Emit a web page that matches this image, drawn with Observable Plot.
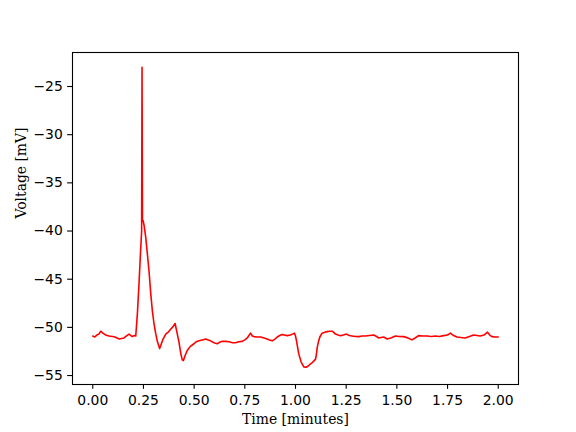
<!DOCTYPE html>
<html>
<head>
<meta charset="utf-8">
<script src="https://cdn.jsdelivr.net/npm/d3@7"></script>
<script src="https://cdn.jsdelivr.net/npm/@observablehq/plot@0.6"></script>
<style>
  html, body { margin: 0; padding: 0; background: white; }
</style>
</head>
<body>
<div id="chart"></div>
<script>
const timeMin = [
  0.000, 0.010, 0.020, 0.030, 0.039, 0.050, 0.064, 0.080, 0.097, 0.110,
  0.120, 0.130, 0.142, 0.154, 0.165, 0.179, 0.188, 0.195, 0.205, 0.212,
  0.220, 0.228, 0.236, 0.241, 0.243, 0.245, 0.248, 0.253, 0.261, 0.269,
  0.278, 0.286, 0.294, 0.302, 0.310, 0.319, 0.330, 0.345, 0.360, 0.372,
  0.384, 0.395, 0.406, 0.415, 0.425, 0.435, 0.442, 0.447, 0.456, 0.466,
  0.480, 0.499, 0.510, 0.524, 0.540, 0.557, 0.570, 0.581, 0.598, 0.614,
  0.625, 0.639, 0.655, 0.672, 0.690, 0.704, 0.720, 0.737, 0.750, 0.762,
  0.778, 0.787, 0.795, 0.810, 0.828, 0.845, 0.860, 0.872, 0.885, 0.900,
  0.910, 0.922, 0.934, 0.945, 0.959, 0.975, 0.985, 0.995, 1.000, 1.005,
  1.016, 1.028, 1.041, 1.050, 1.057, 1.066, 1.074, 1.083, 1.090, 1.099,
  1.103, 1.107, 1.113, 1.120, 1.131, 1.145, 1.156, 1.168, 1.181, 1.190,
  1.197, 1.210, 1.222, 1.236, 1.251, 1.265, 1.279, 1.295, 1.312, 1.328,
  1.345, 1.365, 1.386, 1.400, 1.410, 1.422, 1.435, 1.452, 1.470, 1.493,
  1.510, 1.534, 1.555, 1.575, 1.590, 1.607, 1.628, 1.649, 1.670, 1.690,
  1.710, 1.731, 1.750, 1.764, 1.780, 1.796, 1.815, 1.837, 1.858, 1.878,
  1.895, 1.911, 1.930, 1.947, 1.958, 1.969, 1.985, 2.000
];
const voltage = [
  -50.9, -51.0, -50.8, -50.7, -50.4, -50.6, -50.8, -50.9, -50.95, -51.0,
  -51.1, -51.2, -51.15, -51.1, -50.9, -50.7, -50.85, -50.95, -50.85, -50.9,
  -48.6, -45.5, -42.0, -40.0, -23.0, -39.0, -38.9, -39.4, -40.6, -42.3,
  -44.3, -46.5, -48.3, -49.6, -50.6, -51.5, -52.2, -51.3, -50.7, -50.5,
  -50.2, -49.95, -49.6, -50.5, -51.5, -52.8, -53.4, -53.45, -52.9, -52.4,
  -52.0, -51.7, -51.5, -51.4, -51.3, -51.2, -51.3, -51.4, -51.6, -51.7,
  -51.55, -51.45, -51.45, -51.5, -51.6, -51.6, -51.5, -51.45, -51.3, -51.1,
  -50.6, -50.9, -50.96, -51.0, -51.0, -51.1, -51.2, -51.3, -51.4, -51.2,
  -51.0, -50.85, -50.75, -50.8, -50.86, -50.8, -50.7, -50.6, -50.9, -51.4,
  -52.75, -53.6, -54.1, -54.15, -54.1, -53.95, -53.8, -53.65, -53.5, -53.3,
  -52.8, -52.1, -51.5, -51.0, -50.6, -50.5, -50.44, -50.4, -50.4, -50.55,
  -50.7, -50.8, -50.86, -50.8, -50.7, -50.85, -50.9, -50.95, -50.96, -50.9,
  -50.9, -50.85, -50.8, -50.95, -51.1, -51.05, -51.0, -51.2, -51.1, -50.9,
  -50.95, -50.96, -51.1, -51.3, -51.1, -50.86, -50.9, -50.9, -50.95, -50.9,
  -50.95, -50.86, -50.8, -50.6, -50.85, -51.0, -51.05, -51.1, -50.95, -50.8,
  -50.85, -50.9, -50.8, -50.5, -50.8, -50.96, -51.0, -51.0
];
const xTicks = [0, 0.25, 0.5, 0.75, 1.0, 1.25, 1.5, 1.75, 2.0];
const yTicks = [-55, -50, -45, -40, -35, -30, -25];
const xLabel = "Time [minutes]";
const yLabel = "Voltage [mV]";

const data = timeMin.map((t, i) => ({t, v: voltage[i]}));

const chart = Plot.plot({
  width: 576,
  height: 432,
  marginLeft: 72,
  marginRight: 58,
  marginTop: 52,
  marginBottom: 48,
  style: {fontFamily: "DejaVu Sans", fontSize: "13.9px", color: "black", background: "white"},
  x: {domain: [-0.1, 2.1]},
  y: {domain: [-55.93, -21.47]},
  marks: [
    Plot.line(data, {x: "t", y: "v", stroke: "#ff0000", strokeWidth: 1.6}),
    Plot.frame({stroke: "black", strokeWidth: 1.1}),
    Plot.axisX({ticks: xTicks, tickFormat: d3.format(".2f"), tickSize: 4.86, tickPadding: 5.7, strokeWidth: 1.1, label: null, fontSize: 13.9}),
    Plot.axisY({ticks: yTicks, tickFormat: d3.format("d"), tickSize: 4.86, tickPadding: 4.86, strokeWidth: 1.1, label: null, fontSize: 13.9}),
    Plot.text([xLabel], {text: d => d, frameAnchor: "bottom", dy: 35, lineAnchor: "middle", fontFamily: "DejaVu Serif", fontSize: 13.9, fill: "black"}),
    Plot.text([yLabel], {text: d => d, frameAnchor: "left", dx: -51, rotate: -90, lineAnchor: "middle", fontFamily: "DejaVu Serif", fontSize: 13.9, fill: "black"})
  ]
});
document.getElementById("chart").appendChild(chart);
</script>
</body>
</html>
